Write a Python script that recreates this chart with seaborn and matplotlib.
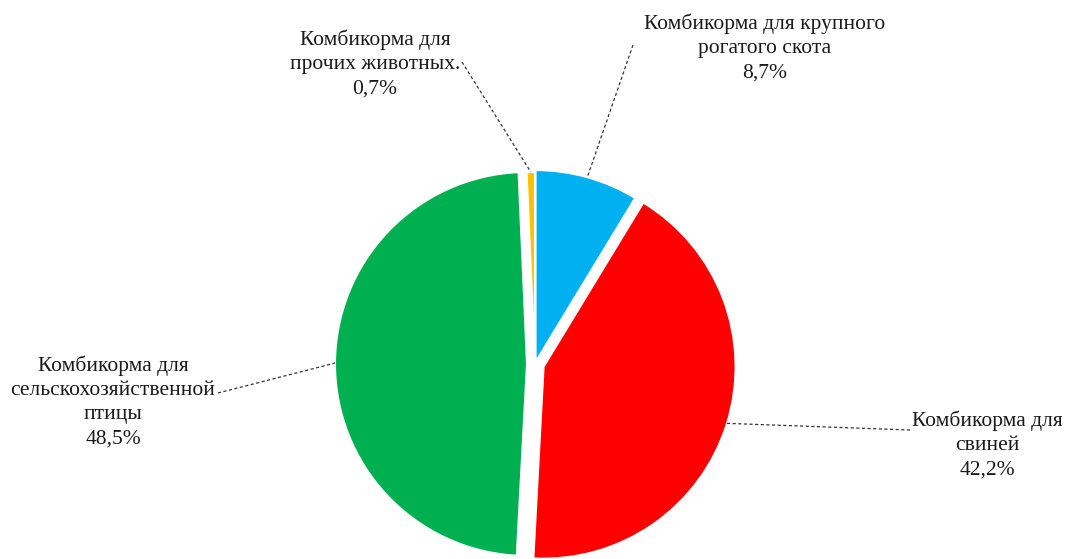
import numpy as np
import seaborn as sns
import matplotlib.pyplot as plt

# data
labels = ["Комбикорма для крупного\nрогатого скота",
          "Комбикорма для\nсвиней",
          "Комбикорма для\nсельскохозяйственной\nптицы",
          "Комбикорма для\nпрочих животных."]
shares = [8.7, 42.2, 48.5, 0.7]
colors = ["#00B0F0", "#FF0000", "#00B050", "#FFC000"]
explode = [2, 9, 8, 0]  # in axis units (pixels here)

# label placement (pixel-like units, y up) and leader start points
label_pos = [(765, 511), (987, 114), (113, 157), (375, 495)]
leader_start = [(633, 514), (910, 129), (218, 166), (462, 497)]

sns.set_theme(style="white")
plt.rcParams['font.family'] = ['Liberation Serif', 'DejaVu Serif']

fig = plt.figure(figsize=(10.66, 5.59), dpi=100)
ax = fig.add_axes([0, 0, 1, 1])

R = 192
wedges, _ = ax.pie(shares, colors=colors, explode=explode, startangle=90,
                   counterclock=False, center=(535, 195), radius=R,
                   wedgeprops=dict(edgecolor="white", linewidth=1.5))

for w, lab, val, pos, start in zip(wedges, labels, shares, label_pos, leader_start):
    mid = np.deg2rad((w.theta1 + w.theta2) / 2)
    cx, cy = w.center
    end = (cx + w.r * np.cos(mid), cy + w.r * np.sin(mid))
    ax.plot([start[0], end[0]], [start[1], end[1]], ls=(0, (2.5, 2)),
            color="#333333", lw=0.9)
    txt = lab + "\n" + f"{val:.1f}%".replace(".", ",")
    ax.text(pos[0], pos[1], txt, ha="center", va="center", fontsize=15.5,
            linespacing=1.37, color="#1a1a1a",
            bbox=dict(facecolor="white", edgecolor="none", pad=0.3))

ax.set_xlim(0, 1066)
ax.set_ylim(0, 559)
ax.set_aspect("equal")
ax.axis("off")

plt.savefig("out.png", dpi=100)
